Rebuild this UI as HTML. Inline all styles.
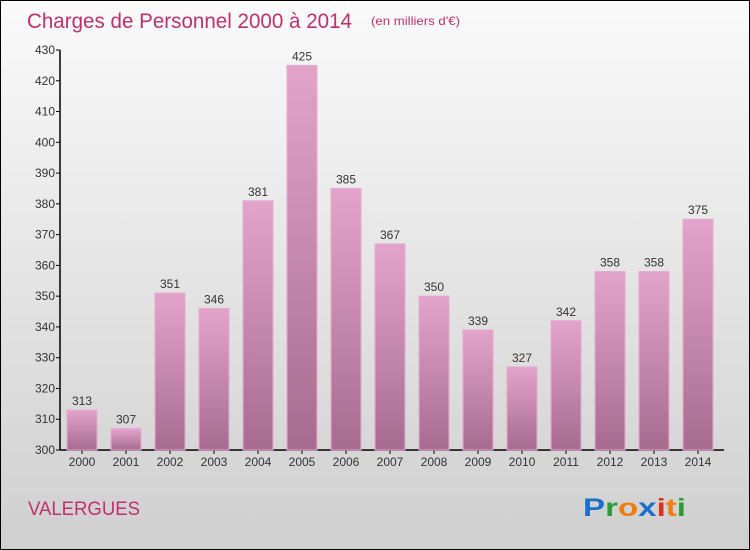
<!DOCTYPE html>
<html><head><meta charset="utf-8"><style>
body{margin:0;width:750px;height:550px;overflow:hidden;font-family:"Liberation Sans",sans-serif}
#wrap{position:absolute;left:0;top:0;width:748px;height:548px;border:1px solid #000;background:linear-gradient(#fafafa,#cfcfcf)}
</style></head><body>
<div id="wrap">
<svg id="chart" width="750" height="550" style="position:absolute;left:-1px;top:-1px">
<defs><linearGradient id="bg" x1="0" y1="0" x2="0" y2="1"><stop offset="0" stop-color="#e3a4cb"/><stop offset="1" stop-color="#a76b90"/></linearGradient></defs>
<text x="27" y="28" font-size="21" fill="#c0306a" textLength="325" lengthAdjust="spacingAndGlyphs">Charges de Personnel 2000 à 2014</text>
<text x="371" y="25" font-size="12" fill="#c0306a" textLength="89" lengthAdjust="spacingAndGlyphs">(en milliers d'€)</text>
<text x="28" y="515" font-size="19" fill="#c0306a" textLength="112" lengthAdjust="spacingAndGlyphs">VALERGUES</text>
<g font-size="25" font-weight="bold" font-family="'Liberation Sans',sans-serif">
<text x="583" y="516" textLength="103" lengthAdjust="spacingAndGlyphs"><tspan fill="#1a6fc9">P</tspan><tspan fill="#2e9b3a">r</tspan><tspan fill="#f07d10">o</tspan><tspan fill="#1a6fc9">x</tspan><tspan fill="#e0301a">i</tspan><tspan fill="#f07d10">t</tspan><tspan fill="#2e9b3a">i</tspan></text></g>
<g id="axes"></g><g id="bars"></g>
</svg></div>
<script>
const years=["2000","2001","2002","2003","2004","2005","2006","2007","2008","2009","2010","2011","2012","2013","2014"];
const values=[313,307,351,346,381,425,385,367,350,339,327,342,358,358,375];
const yTicks=[300,310,320,330,340,350,360,370,380,390,400,410,420,430];
const NS="http://www.w3.org/2000/svg";
const y0=450,y1=50,vmin=300,vmax=430,x0=60;
function yS(v){return y0-(v-vmin)/(vmax-vmin)*(y0-y1);}
function xS(i){return 82+i*44;}
function mk(t,a,p){const e=document.createElementNS(NS,t);for(const k in a)e.setAttribute(k,a[k]);p.appendChild(e);return e;}
const ax=document.getElementById('axes'),bs=document.getElementById('bars');
const yl=mk('line',{x1:x0,y1:y1,x2:x0,y2:y0,stroke:'#000','stroke-width':1.5},ax);


const xl=mk('line',{x1:x0,y1:y0,x2:724,y2:y0,stroke:'#000','stroke-width':1.5},ax);


yTicks.forEach(v=>{const y=yS(v);
mk('line',{x1:x0-4,y1:y,x2:x0,y2:y,stroke:'#000'},ax);
const t=mk('text',{x:x0-5,y:y+4,'font-size':12,fill:'#333','text-anchor':'end'},ax);t.textContent=v;

});
values.forEach((v,i)=>{const x=xS(i),y=yS(v);
const r=mk('rect',{x:x-15,y:y,width:30,height:y0-y,fill:'url(#bg)',stroke:'#e6aad0','stroke-width':1},bs);


const l=mk('text',{x:x,y:y-5,'font-size':12,fill:'#333','text-anchor':'middle'},bs);l.textContent=v;


mk('line',{x1:x,y1:y0,x2:x,y2:y0+4,stroke:'#000'},ax);
const xt=mk('text',{x:x,y:y0+16,'font-size':12,fill:'#333','text-anchor':'middle'},ax);xt.textContent=years[i];

});
</script>
</body></html>
